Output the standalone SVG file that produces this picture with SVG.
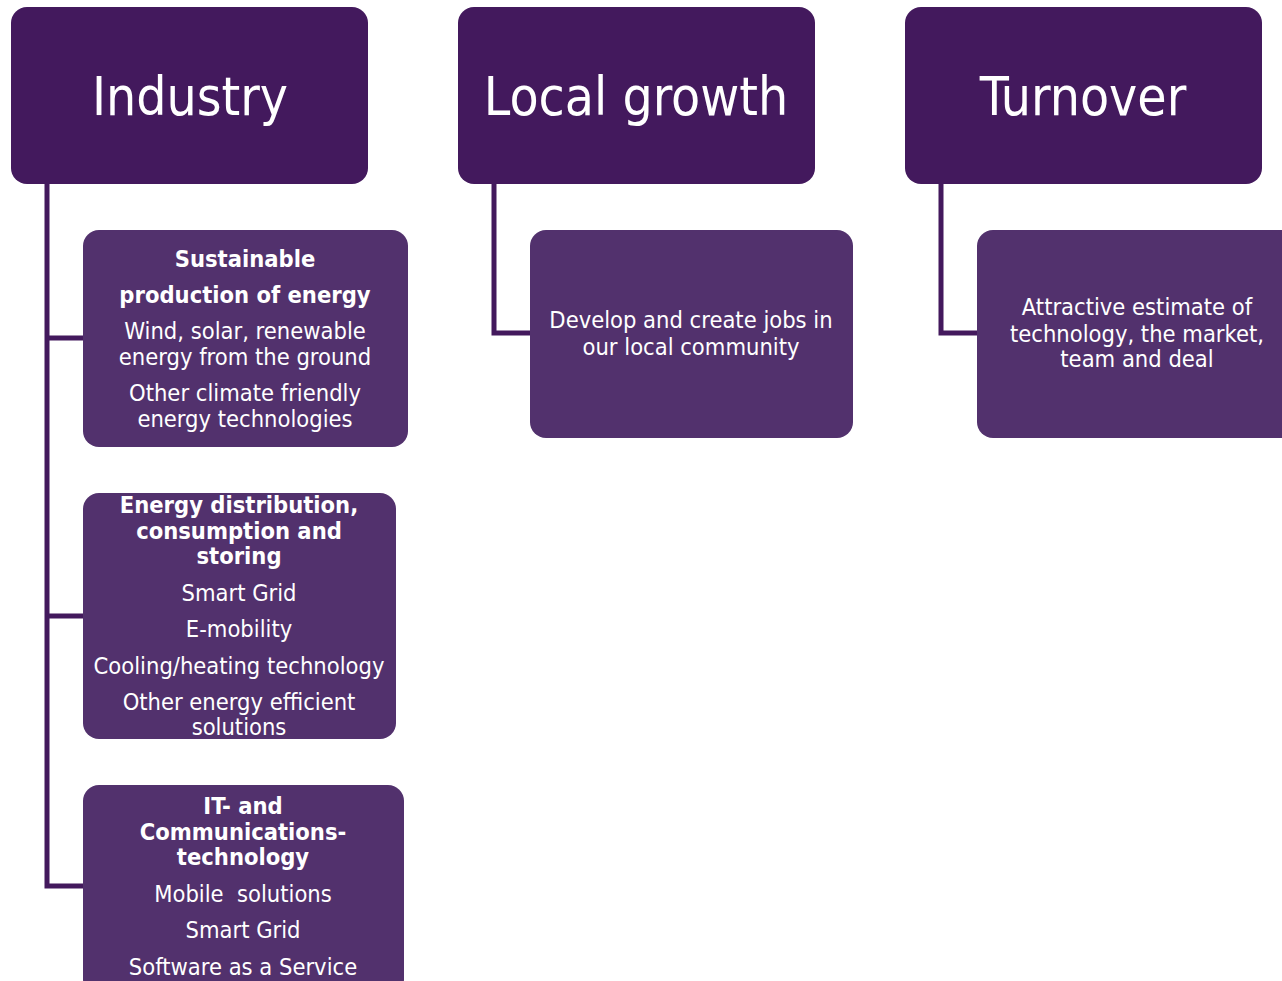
<svg xmlns="http://www.w3.org/2000/svg" width="1282" height="981" viewBox="0 0 1282 981">
<style>
.top{fill:#43195d}
.sub{fill:#52316d}
.conn{fill:none;stroke:#43195d;stroke-width:5;stroke-linejoin:miter}
text{font-family:"DejaVu Sans Condensed","DejaVu Sans",sans-serif;fill:#fff;text-anchor:middle}
.title{font-size:53px}
.b{font-size:23.5px;font-weight:bold}
.n{font-size:23.5px}
</style>
<rect width="1282" height="981" fill="#fff"/>
<g id="connectors">
<path class="conn" d="M47,184 V886 H83 M47,338 H83 M47,616 H83"/>
<path class="conn" d="M494,184 V333 H530"/>
<path class="conn" d="M941,184 V333 H977"/>
</g>
<g id="industry">
<rect class="top" x="11" y="7" width="357" height="177" rx="16"/>
<text class="title" x="190" y="115">Industry</text>
</g>
<g id="local-growth">
<rect class="top" x="458" y="7" width="357" height="177" rx="16"/>
<text class="title" x="636" y="115">Local growth</text>
</g>
<g id="turnover">
<rect class="top" x="905" y="7" width="357" height="177" rx="16"/>
<text class="title" x="1083" y="115">Turnover</text>
</g>
<g id="sustainable">
<rect class="sub" x="83" y="230" width="325" height="217" rx="16"/>
<text class="b" x="245" y="267">Sustainable</text>
<text class="b" x="245" y="303">production of energy</text>
<text class="n" x="245" y="339">Wind, solar, renewable</text>
<text class="n" x="245" y="365">energy from the ground</text>
<text class="n" x="245" y="401">Other climate friendly</text>
<text class="n" x="245" y="427">energy technologies</text>
</g>
<g id="energy-distribution">
<rect class="sub" x="83" y="493" width="313" height="246" rx="16"/>
<text class="b" x="239" y="513">Energy distribution,</text>
<text class="b" x="239" y="539">consumption and</text>
<text class="b" x="239" y="564">storing</text>
<text class="n" x="239" y="601">Smart Grid</text>
<text class="n" x="239" y="637">E-mobility</text>
<text class="n" x="239" y="674">Cooling/heating technology</text>
<text class="n" x="239" y="710">Other energy efficient</text>
<text class="n" x="239" y="735">solutions</text>
</g>
<g id="it">
<rect class="sub" x="83" y="785" width="321" height="210" rx="16"/>
<text class="b" x="243" y="814">IT- and</text>
<text class="b" x="243" y="840">Communications-</text>
<text class="b" x="243" y="865">technology</text>
<text class="n" x="243" y="902" xml:space="preserve">Mobile  solutions</text>
<text class="n" x="243" y="938">Smart Grid</text>
<text class="n" x="243" y="975">Software as a Service</text>
</g>
<g id="local-jobs">
<rect class="sub" x="530" y="230" width="323" height="208" rx="16"/>
<text class="n" x="691" y="328">Develop and create jobs in</text>
<text class="n" x="691" y="355">our local community</text>
</g>
<g id="turnover-estimate">
<rect class="sub" x="977" y="230" width="325" height="208" rx="16"/>
<text class="n" x="1137" y="315">Attractive estimate of</text>
<text class="n" x="1137" y="342">technology, the market,</text>
<text class="n" x="1137" y="367">team and deal</text>
</g>
</svg>
